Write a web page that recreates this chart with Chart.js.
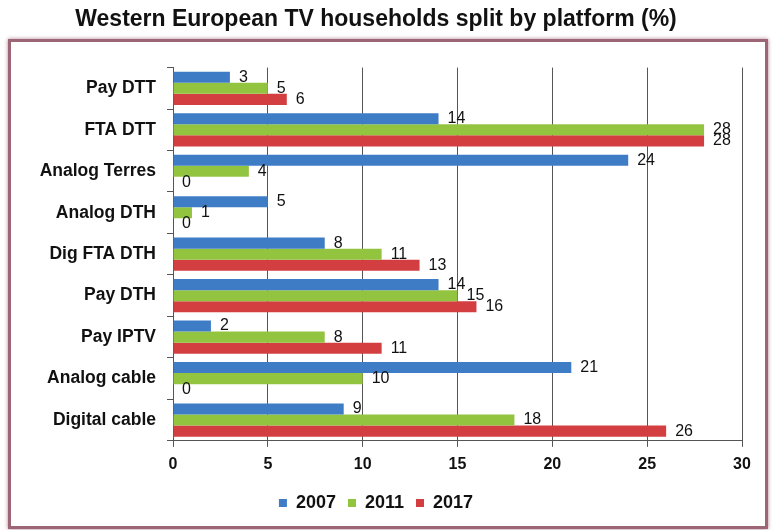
<!DOCTYPE html>
<html>
<head>
<meta charset="utf-8">
<script src="https://cdn.jsdelivr.net/npm/chart.js@4"></script>
<style>
  html, body { margin: 0; padding: 0; background: #fff; }
  #wrap { position: relative; width: 774px; height: 530px; }
  #frame {
    position: absolute; left: 8px; top: 39px; width: 754px; height: 484px;
    border: 3px solid #9c6676; box-shadow: 0 0 4px #b08090;
  }
  canvas { position: absolute; left: 0; top: 0; }
</style>
</head>
<body>
<div id="wrap">
  <div id="frame"></div>
  <canvas id="chart" width="774" height="530"></canvas>
</div>
<script>
// categories, top to bottom
const platforms = ["Pay DTT", "FTA DTT", "Analog Terres", "Analog DTH", "Dig FTA DTH", "Pay DTH", "Pay IPTV", "Analog cable", "Digital cable"];
const years = ["2007", "2011", "2017"];
const share2007 = [3, 14, 24, 5, 8, 14, 2, 21, 9];
const share2011 = [5, 28, 4, 1, 11, 15, 8, 10, 18];
const share2017 = [6, 28, 0, 0, 13, 16, 11, 0, 26];
const xTicks = [0, 5, 10, 15, 20, 25, 30];

const colors = ["#3f7cc6", "#93c440", "#d33f40"];
const fontFamily = "Arial, 'Liberation Sans', sans-serif";

// draws the value next to each bar
const valueLabels = {
    id: "valueLabels",
    afterDatasetsDraw(chart) {
        const ctx = chart.ctx;
        ctx.save();
        ctx.font = "16px " + fontFamily;
        ctx.fillStyle = "#111";
        ctx.textBaseline = "middle";
        ctx.textAlign = "left";
        chart.data.datasets.forEach((ds, i) => {
            chart.getDatasetMeta(i).data.forEach((bar, j) => {
                ctx.fillText(String(ds.data[j]), bar.x + 9, bar.y);
            });
        });
        ctx.restore();
    }
};

const ctx = document.getElementById("chart").getContext("2d");
new Chart(ctx, {
    type: "bar",
    data: {
        labels: platforms,
        datasets: [
            { label: years[0], data: share2007, backgroundColor: colors[0] },
            { label: years[1], data: share2011, backgroundColor: colors[1] },
            { label: years[2], data: share2017, backgroundColor: colors[2] }
        ]
    },
    options: {
        indexAxis: "y",
        responsive: false,
        animation: false,
        categoryPercentage: 0.8,
        barPercentage: 1.0,
        layout: { padding: { left: 10, right: 32, top: 0, bottom: 8 } },
        scales: {
            x: {
                min: 0,
                max: 30,
                afterBuildTicks: (axis) => { axis.ticks = xTicks.map(v => ({ value: v })); },
                grid: { color: "#555", lineWidth: 1, tickLength: 6 },
                border: { color: "#555" },
                ticks: {
                    color: "#111",
                    padding: 8,
                    font: { family: fontFamily, size: 16, weight: "bold" }
                }
            },
            y: {
                afterFit: (axis) => { axis.width = 163; },
                grid: { drawOnChartArea: false, color: "#555", tickLength: 6 },
                border: { color: "#555" },
                ticks: {
                    color: "#111",
                    padding: 11,
                    font: { family: fontFamily, size: 17.5, weight: "bold" }
                }
            }
        },
        plugins: {
            title: {
                display: true,
                text: "Western European TV households split by platform (%)",
                color: "#111",
                font: { family: fontFamily, size: 23, weight: "bold" },
                padding: { top: 6, bottom: 34 }
            },
            legend: {
                position: "bottom",
                labels: {
                    color: "#111",
                    boxWidth: 8,
                    boxHeight: 8,
                    padding: 12,
                    font: { family: fontFamily, size: 18, weight: "bold" }
                }
            },
            tooltip: { enabled: false }
        }
    },
    plugins: [valueLabels]
});
</script>
</body>
</html>
